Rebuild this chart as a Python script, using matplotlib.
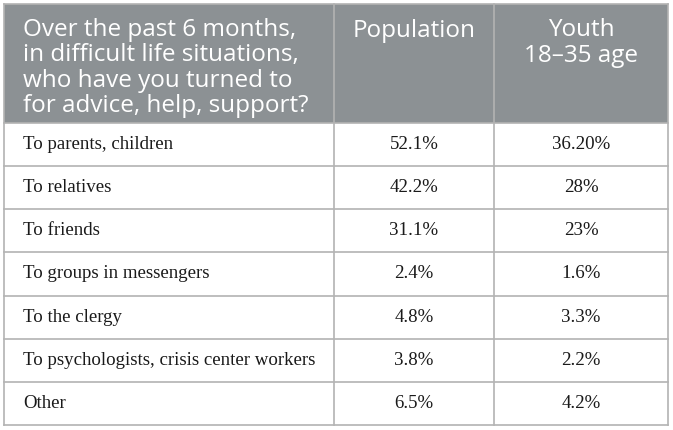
import matplotlib
matplotlib.use("Agg")
import matplotlib.pyplot as plt
from matplotlib.patches import Rectangle

header = ["Over the past 6 months,\nin difficult life situations,\nwho have you turned to\nfor advice, help, support?",
          "Population", "Youth\n18\u201335 age"]
categories = ["To parents, children", "To relatives", "To friends", "To groups in messengers",
              "To the clergy", "To psychologists, crisis center workers", "Other"]
population = ["52.1%", "42.2%", "31.1%", "2.4%", "4.8%", "3.8%", "6.5%"]
youth = ["36.20%", "28%", "23%", "1.6%", "3.3%", "2.2%", "4.2%"]

W, H = 673, 430
fig = plt.figure(figsize=(W / 100, H / 100), dpi=100)
ax = fig.add_axes([0, 0, 1, 1])
ax.set_xlim(0, W)
ax.set_ylim(H, 0)
ax.axis("off")

left, right = 4, 668
top, head_bot, bottom = 4, 123, 425
col_x = [left, 334, 494, right]
n = len(categories)
row_h = (bottom - head_bot) / n
line_c = "#b3b3b3"
head_c = "#8c9194"

ax.add_patch(Rectangle((left, top), right - left, head_bot - top, facecolor=head_c, edgecolor="none"))

for i in range(n + 1):
    y = head_bot + i * row_h
    ax.plot([left, right], [y, y], color=line_c, lw=1.2)
ax.plot([left, right], [top, top], color=line_c, lw=1.2)
for x in col_x:
    ax.plot([x, x], [top, bottom], color=line_c, lw=1.2)

hfont = dict(family="Open Sans", fontsize=17.5, color="white", linespacing=1.08)
ax.text(col_x[0] + 19, 18, header[0], ha="left", va="top", **hfont)
ax.text((col_x[1] + col_x[2]) / 2, 19, header[1], ha="center", va="top", **hfont)
ax.text((col_x[2] + col_x[3]) / 2, 18, header[2], ha="center", va="top", multialignment="center",
        **dict(hfont, linespacing=1.13))

bfont = dict(family="Liberation Serif", fontsize=13.6, color="#1a1a1a")
for i in range(n):
    yc = head_bot + (i + 0.5) * row_h
    ax.text(col_x[0] + 19, yc, categories[i], ha="left", va="center", **bfont)
    ax.text((col_x[1] + col_x[2]) / 2, yc, population[i], ha="center", va="center", **bfont)
    ax.text((col_x[2] + col_x[3]) / 2, yc, youth[i], ha="center", va="center", **bfont)

fig.savefig("out.png", dpi=100)
